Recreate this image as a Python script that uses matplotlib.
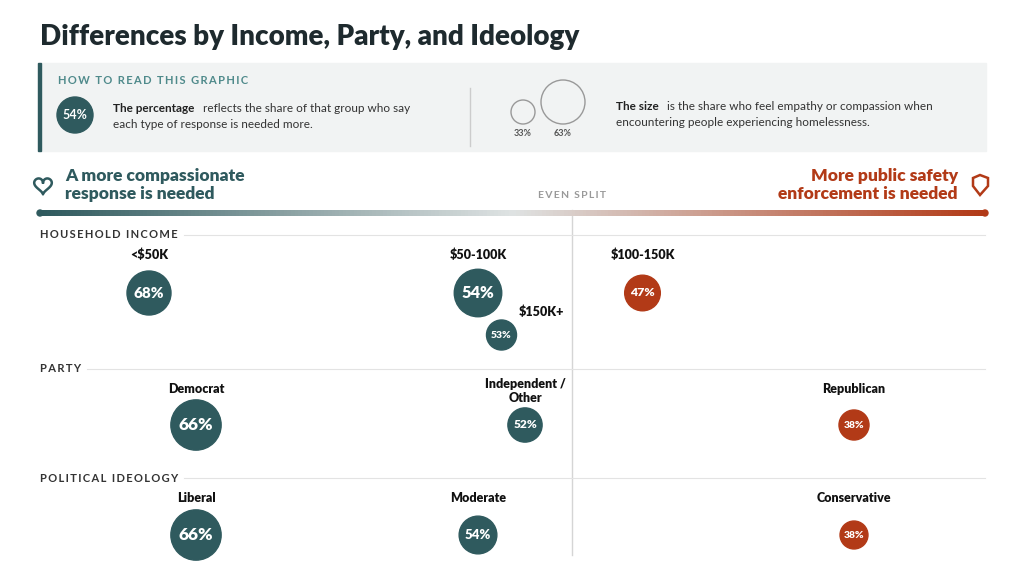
import numpy as np
import matplotlib
matplotlib.use("Agg")
import matplotlib.pyplot as plt
from matplotlib.colors import LinearSegmentedColormap
from matplotlib.patches import Circle, Rectangle, Polygon

plt.rcParams['font.family'] = ['Lato', 'DejaVu Sans']

# data
sections = ["HOUSEHOLD INCOME", "PARTY", "POLITICAL IDEOLOGY"]
income_labels = ["<$50K", "$50-100K", "$150K+", "$100-150K"]
income_pct = [68, 54, 53, 47]
income_size = [63, 68, 43, 51]
party_labels = ["Democrat", "Independent /\nOther", "Republican"]
party_pct = [66, 52, 38]
party_size = [72, 49, 43]
ideo_labels = ["Liberal", "Moderate", "Conservative"]
ideo_pct = [66, 54, 38]
ideo_size = [72, 54, 40]

TEAL = "#2f5a5e"
ORANGE = "#b23a17"
DARK = "#1e2a2e"

fig = plt.figure(figsize=(10.24, 5.76), dpi=100)
ax = fig.add_axes([0, 0, 1, 1])
ax.set_xlim(0, 1024)
ax.set_ylim(576, 0)
ax.set_aspect('equal')
ax.axis('off')

CENTER = 572
PX_PER_PCT = 23.5


def xpos(p):
    return CENTER - (p - 50) * PX_PER_PCT


def radius(s):
    return s * 22 / 63


def spaced(s):
    return "\u2009".join(s)


# title
ax.text(40, 37, "Differences by Income, Party, and Ideology", fontsize=20, fontweight='heavy',
        color=DARK, va='center')

# how to read box
ax.add_patch(Rectangle((38, 63), 948, 88, color="#f1f3f3", zorder=0))
ax.add_patch(Rectangle((38, 63), 3, 88, color=TEAL, zorder=1))
ax.text(58, 80, spaced("HOW TO READ THIS GRAPHIC"), fontsize=8, fontweight='bold',
        color="#4f8a8b", va='center')
ax.add_patch(Circle((75, 115), 18, color=TEAL))
ax.text(75, 115, "54%", fontsize=9, fontweight='bold', color='white', ha='center', va='center')
ax.text(113, 108, "The percentage", fontsize=8.5, fontweight='bold', color="#222", va='center')
ax.text(203, 108, "reflects the share of that group who say", fontsize=8.5, color="#333",
        va='center')
ax.text(113, 124, "each type of response is needed more.", fontsize=8.5, color="#333", va='center')
ax.plot([470, 470], [88, 146], color="#cccccc", lw=1)
ax.add_patch(Circle((523, 112), 12, fill=False, ec="#999", lw=1))
ax.add_patch(Circle((563, 102), 22, fill=False, ec="#999", lw=1))
ax.text(523, 133, "33%", fontsize=6.5, fontweight='bold', color="#555", ha='center', va='center')
ax.text(563, 133, "63%", fontsize=6.5, fontweight='bold', color="#555", ha='center', va='center')
ax.text(616, 107, "The size", fontsize=8.5, fontweight='bold', color="#222", va='center')
ax.text(667, 107, "is the share who feel empathy or compassion when", fontsize=8.5,
        color="#333", va='center')
ax.text(616, 123, "encountering people experiencing homelessness.", fontsize=8.5, color="#333",
        va='center')

# axis header
ax.text(65, 185, "A more compassionate\nresponse is needed", fontsize=12.5, fontweight='heavy',
        color=TEAL, va='center', linespacing=1.1)
ax.text(958, 185, "More public safety\nenforcement is needed", fontsize=12.5, fontweight='heavy',
        color=ORANGE, va='center', ha='right', linespacing=1.1)
ax.text(CENTER, 196, spaced("EVEN SPLIT"), fontsize=7.5, fontweight='bold', color="#999",
        ha='center', va='center')
# heart and shield icons
t = np.linspace(0, 2 * np.pi, 100)
hx = 16 * np.sin(t) ** 3
hy = 13 * np.cos(t) - 5 * np.cos(2 * t) - 2 * np.cos(3 * t) - np.cos(4 * t)
ax.plot(43 + hx * 0.55, 185 - hy * 0.55, color=TEAL, lw=1.8)
ax.add_patch(Polygon([[973, 178], [980, 175], [988, 178], [988, 186], [980, 195], [973, 186]],
                     closed=True, fill=False, ec=ORANGE, lw=1.8))

cmap = LinearSegmentedColormap.from_list("g", [TEAL, "#dfe3e3", ORANGE])
ax.imshow(np.linspace(0, 1, 256)[None, :], cmap=cmap, aspect='auto', extent=(40, 985, 216, 210),
          zorder=2)
ax.add_patch(Circle((40, 213), 3, color=TEAL, zorder=2))
ax.add_patch(Circle((985, 213), 3, color=ORANGE, zorder=2))

ax.plot([CENTER, CENTER], [210, 555], color="#d5d5d5", lw=1, zorder=0)


def section(title, y_head, labels, pcts, sizes, y_label, y_circ, offsets=None):
    txt = ax.text(40, y_head, spaced(title), fontsize=8, fontweight='bold', color="#333",
                  va='center')
    fig.canvas.draw()
    bb = txt.get_window_extent()
    ax.plot([bb.x1 + 6, 985], [y_head, y_head], color="#e3e3e3", lw=0.8, zorder=0)
    for i, (lab, p, s) in enumerate(zip(labels, pcts, sizes)):
        x = xpos(p)
        dy_l, dy_c, dx_l = (0, 0, 0) if offsets is None else offsets[i]
        col = TEAL if p > 50 else ORANGE
        r = radius(s)
        ax.add_patch(Circle((x, y_circ + dy_c), r, color=col, zorder=3))
        ax.text(x, y_circ + dy_c, f"{p}%", fontsize=max(7.5, min(12.5, r * 0.5)),
                fontweight='heavy', color='white', ha='center', va='center', zorder=4)
        ax.text(x + dx_l, y_label + dy_l, lab, fontsize=9, fontweight='heavy', color="#111",
                ha='center', va='center', linespacing=1.1)


section(sections[0], 235, income_labels, income_pct, income_size, 255, 293,
        offsets=[(0, 0, 0), (0, 0, 0), (57, 42, 40), (0, 0, 0)])
section(sections[1], 369, party_labels, party_pct, party_size, 389, 425,
        offsets=[(0, 0, 0), (2, 0, 0), (0, 0, 0)])
section(sections[2], 478, ideo_labels, ideo_pct, ideo_size, 498, 535)

fig.savefig("out.png", dpi=100)
